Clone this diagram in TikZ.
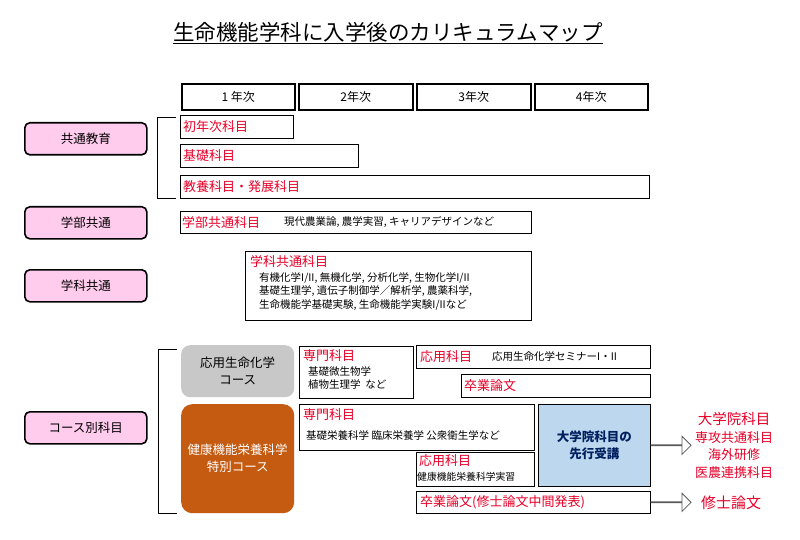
\documentclass[tikz,border=0pt]{standalone}
\usepackage{fontspec}
\setmainfont{Noto Sans CJK JP}
\usetikzlibrary{shapes.arrows}
\definecolor{lblpink}{RGB}{255,204,238}
\definecolor{coursegray}{RGB}{200,200,200}
\definecolor{courseorange}{RGB}{197,90,17}
\definecolor{gradblue}{RGB}{189,215,238}
\definecolor{gradtext}{RGB}{0,32,96}
\definecolor{redtext}{RGB}{230,0,40}
\tikzset{
  yearbox/.style={draw,line width=1.6pt,anchor=north west,inner sep=0pt,font=\fontsize{12}{14}\selectfont},
  catbox/.style={draw,line width=1.6pt,rounded corners=5pt,fill=lblpink,anchor=north west,inner sep=0pt,minimum width=122pt,minimum height=32pt,font=\fontsize{12.5}{14}\selectfont},
  subjbox/.style={draw,line width=0.6pt,anchor=north west,inner sep=0pt},
  redlbl/.style={text=redtext,anchor=west,inner sep=1pt,font=\fontsize{13}{15}\selectfont},
  bodytxt/.style={anchor=west,inner sep=1pt,font=\fontsize{10.5}{13.5}\selectfont},
  bigarrow/.style={single arrow,draw=gray!70!black,fill=white,line width=0.8pt,minimum height=40pt,minimum width=18pt,single arrow head extend=8pt,single arrow tip angle=90,inner sep=0pt,anchor=west},
}
\begin{document}
\begin{tikzpicture}[x=1pt,y=1pt,yscale=-1]
\useasboundingbox (0,0) rectangle (800,540);

% title
\node (title) at (388,33) {\fontsize{21.5}{24}\selectfont\underline{生命機能学科に入学後のカリキュラムマップ}};

% years
\node[yearbox,minimum width=113pt,minimum height=26pt] (y1) at (181,83) {1 年次};
\node[yearbox,minimum width=114pt,minimum height=26pt] (y2) at (298,83) {2年次};
\node[yearbox,minimum width=114pt,minimum height=26pt] (y3) at (416,83) {3年次};
\node[yearbox,minimum width=113pt,minimum height=26pt] (y4) at (534,83) {4年次};

% categories
\node[catbox] (kyotsu) at (24,122) {共通教育};
\node[catbox] (gakubu) at (24,206) {学部共通};
\node[catbox] (gakka) at (24,269) {学科共通};
\node[catbox] (course) at (24,411) {コース別科目};

% brackets
\draw[line width=0.8pt] (176,117) -- (157,117) -- (157,198) -- (176,198);
\draw[line width=0.8pt] (177,349) -- (158,349) -- (158,513) -- (177,513);

% common education
\node[subjbox,minimum width=113pt,minimum height=23pt] (shonen) at (180,115) {};
\node[redlbl] at ([xshift=2pt]shonen.west) {初年次科目};
\node[subjbox,minimum width=178pt,minimum height=23pt] (kiso) at (180,144) {};
\node[redlbl] at ([xshift=2pt]kiso.west) {基礎科目};
\node[subjbox,minimum width=469pt,minimum height=23pt] (kyoyo) at (180,175) {};
\node[redlbl] at ([xshift=2pt]kyoyo.west) {教養科目・発展科目};

% faculty common
\node[subjbox,minimum width=351pt,minimum height=22pt] (gakububox) at (180,211) {};
\node[redlbl] at ([xshift=1pt]gakububox.west) {学部共通科目};
\node[bodytxt] at ([xshift=103pt]gakububox.west) {現代農業論, 農学実習, キャリアデザインなど};

% department common
\node[subjbox,minimum width=286pt,minimum height=69pt] (gakkabox) at (245,251) {};
\node[redlbl] at ([xshift=4pt,yshift=11pt]gakkabox.north west) {学科共通科目};
\node[bodytxt,anchor=north west,align=left] at ([xshift=13pt,yshift=20pt]gakkabox.north west)
  {有機化学I/II, 無機化学, 分析化学, 生物化学I/II\\基礎生理学, 遺伝子制御学／解析学, 農薬科学,\\生命機能学基礎実験, 生命機能学実験I/IIなど};

% courses
\node[draw=none,fill=coursegray,rounded corners=9pt,anchor=north west,minimum width=113pt,minimum height=52pt,align=center,font=\fontsize{12.5}{17}\selectfont] (oyo) at (181,345) {応用生命化学\\コース};
\node[draw=none,fill=courseorange,text=white,rounded corners=11pt,anchor=north west,minimum width=113pt,minimum height=109pt,align=center,font=\fontsize{12.5}{17}\selectfont] (kenko) at (181,404) {健康機能栄養科学\\特別コース};

% applied life chemistry course
\node[subjbox,minimum width=114pt,minimum height=52pt] (senmon1) at (299,346) {};
\node[redlbl] at ([xshift=3pt,yshift=10pt]senmon1.north west) {専門科目};
\node[bodytxt,anchor=north west,align=left] at ([xshift=8pt,yshift=19pt]senmon1.north west) {基礎微生物学\\植物生理学\ \ など};
\node[subjbox,minimum width=234pt,minimum height=23pt] (oyo1) at (416,345) {};
\node[redlbl] at ([xshift=3pt]oyo1.west) {応用科目};
\node[bodytxt] at ([xshift=75pt]oyo1.west) {応用生命化学セミナーI・II};
\node[subjbox,minimum width=189pt,minimum height=23pt] (sotsu1) at (461,374) {};
\node[redlbl] at ([xshift=2pt]sotsu1.west) {卒業論文};

% health nutrition course
\node[subjbox,minimum width=235pt,minimum height=46pt] (senmon2) at (299,404) {};
\node[redlbl] at ([xshift=3pt,yshift=11pt]senmon2.north west) {専門科目};
\node[bodytxt] at ([xshift=6pt,yshift=32pt]senmon2.north west) {基礎栄養科学\ 臨床栄養学\ 公衆衛生学など};
\node[subjbox,minimum width=118pt,minimum height=34pt] (oyo2) at (416,452) {};
\node[redlbl] at ([xshift=2pt,yshift=9pt]oyo2.north west) {応用科目};
\node[bodytxt,font=\fontsize{9.8}{12}\selectfont] at ([xshift=0pt,yshift=25pt]oyo2.north west) {健康機能栄養科学実習};
\node[draw,line width=0.6pt,fill=gradblue,text=gradtext,anchor=north west,minimum width=112pt,minimum height=82pt,align=center,font=\bfseries\fontsize{12.5}{17}\selectfont] (senko) at (538,404) {大学院科目の\\先行受講};
\node[subjbox,minimum width=234pt,minimum height=22pt] (sotsu2) at (416,491) {};
\node[redlbl] at ([xshift=3pt]sotsu2.west) {卒業論文(修士論文中間発表)};

% arrows and outcomes
\node[bigarrow] (arr1) at (senko.east) {};
\node[bigarrow] (arr2) at (sotsu2.east) {};
\node[text=redtext,align=center,font=\fontsize{13}{17.5}\selectfont,anchor=west] (grad) at ([xshift=0pt]arr1.east) {\fontsize{14.5}{17.5}\selectfont 大学院科目\\専攻共通科目\\海外研修\\医農連携科目};
\node[text=redtext,font=\fontsize{15}{17}\selectfont,anchor=west] (shushi) at ([xshift=6pt]arr2.east) {修士論文};

\end{tikzpicture}
\end{document}
